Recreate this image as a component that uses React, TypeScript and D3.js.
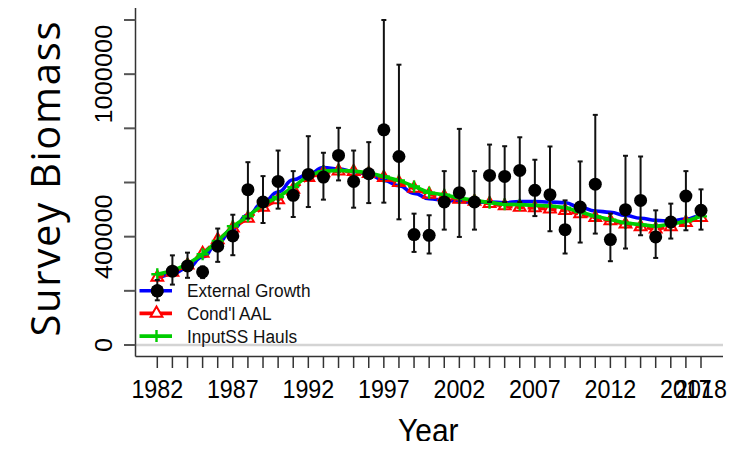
import * as d3 from "d3";

const years = [
  1982, 1983, 1984, 1985, 1986, 1987, 1988, 1989, 1990, 1991, 1992, 1993,
  1994, 1995, 1996, 1997, 1998, 1999, 2000, 2001, 2002, 2003, 2004, 2005,
  2006, 2007, 2008, 2009, 2010, 2011, 2012, 2013, 2014, 2015, 2016, 2017, 2018,
];

// survey observations with error bars
const observed = [
  200000, 272600, 292000, 270000, 364700, 402600, 573500, 528000, 604000,
  552500, 630000, 620000, 700000, 604000, 632400, 794500, 696000, 407700,
  405000, 528000, 562400, 528000, 626000, 622500, 644600, 571000, 555000,
  426000, 509400, 594000, 389300, 499800, 534000, 398900, 454100, 550000,
  497200,
];
const observedLow = [
  165000, 223000, 248000, 247000, 307000, 331500, 466700, 450500, 503500,
  472600, 509400, 536700, 607700, 507000, 524000, 525600, 464000, 343700,
  337800, 426000, 399000, 426000, 528000, 528000, 528000, 476000, 420000,
  337800, 378300, 411400, 309400, 356200, 405200, 321500, 393000, 423600,
  426000,
];
const observedHigh = [
  240000, 331000, 341000, 290000, 430000, 481000, 675000, 623600, 718000,
  642000, 771000, 709800, 801900, 718000, 749000, 1200000, 1035000, 485000,
  479000, 642000, 798000, 642000, 740000, 734000, 767000, 684000, 733000,
  534000, 677800, 849700, 485000, 698700, 696000, 497200, 522000, 642000,
  574600,
];

// model fits
const externalGrowth = [
  250000, 262000, 285000, 325000, 378000, 430000, 480000, 525000, 565000,
  610000, 630000, 655000, 650000, 640000, 630000, 608000, 588000, 560000,
  540000, 535000, 530000, 527000, 528000, 525000, 530000, 530000, 528000,
  525000, 508000, 495000, 490000, 478000, 468000, 460000, 458000, 465000,
  478000,
];
const condAAL = [
  250000, 268000, 295000, 338000, 388000, 432000, 468000, 508000, 536000,
  575000, 618000, 636000, 642000, 640000, 633000, 618000, 600000, 578000,
  556000, 548000, 538000, 530000, 522000, 514000, 508000, 506000, 502000,
  496000, 484000, 470000, 458000, 446000, 436000, 428000, 436000, 452000,
  470000,
];
const inputSSHauls = [
  261500, 273700, 298300, 335200, 384200, 438300, 475100, 519300, 546200,
  583100, 626200, 642000, 644600, 642000, 636100, 622500, 607700, 585600,
  562400, 555000, 542600, 534000, 525600, 519300, 518200, 515700, 513200,
  507200, 491000, 475100, 463000, 450500, 444600, 438300, 445700, 456800,
  475100,
];

const yearLabels = [1982, 1987, 1992, 1997, 2002, 2007, 2012, 2017, 2018];
const yTicks = [0, 200000, 400000, 600000, 800000, 1000000, 1200000];
const yLabels = [0, 400000, 1000000];
const legendItems = ["External Growth", "Cond'l AAL", "InputSS Hauls"];

const W = 754;
const H = 449;
const SX = 0.917; // picture was squeezed horizontally
const tickFont = "'Liberation Sans', Arial, sans-serif";

export default function App() {
  const x = d3.scaleLinear().domain([1982, 2018]).range([157.3, 701]);
  const y = d3.scaleLinear().domain([0, 1200000]).range([345, 20]);

  const mkLine = (vals: number[], curve: d3.CurveFactory) =>
    d3
      .line<number>()
      .x((_, i) => x(years[i]))
      .y((d) => y(d))
      .curve(curve)(vals) ?? "";

  const tri = d3.symbol(d3.symbolTriangle, 60)() ?? "";
  const axisLeft = 135.5;
  const axisBottom = 356.5;

  return (
    <svg width={W} height={H} style={{ display: "block", margin: "-8px", background: "#fff" }}>
      {/* zero reference line */}
      <line x1={axisLeft} x2={723} y1={y(0)} y2={y(0)} stroke="#d4d4d4" strokeWidth={2.5} />

      {/* axes (L-shaped box) */}
      <line x1={axisLeft} x2={axisLeft} y1={6} y2={axisBottom} stroke="#333" strokeWidth={1.5} />
      <line x1={axisLeft} x2={723} y1={axisBottom} y2={axisBottom} stroke="#333" strokeWidth={1.5} />

      {yTicks.map((t) => (
        <line key={t} x1={124} x2={axisLeft} y1={y(t)} y2={y(t)} stroke="#555" strokeWidth={2} />
      ))}
      {yLabels.map((t) => (
        <text
          key={t}
          transform={`translate(111.5,${y(t)}) scale(${SX},1) rotate(-90)`}
          textAnchor="middle"
          fontFamily={tickFont}
          fontSize={25.4}
          fill="#000"
        >
          {t}
        </text>
      ))}

      {years.map((yr) => (
        <line key={yr} x1={x(yr)} x2={x(yr)} y1={axisBottom} y2={368} stroke="#333" strokeWidth={1.5} />
      ))}
      {yearLabels.map((yr) => (
        <text
          key={yr}
          transform={`translate(${x(yr)},398) scale(${SX},1)`}
          textAnchor="middle"
          fontFamily={tickFont}
          fontSize={25.4}
          fill="#000"
        >
          {yr}
        </text>
      ))}

      {/* model lines */}
      <path d={mkLine(externalGrowth, d3.curveBumpX)} fill="none" stroke="#0000ff" strokeWidth={3.6} />
      <path d={mkLine(condAAL, d3.curveLinear)} fill="none" stroke="#ff0000" strokeWidth={3.6} strokeDasharray="7,4" />
      {condAAL.map((v, i) => (
        <path key={i} d={tri} transform={`translate(${x(years[i])},${y(v)})`} fill="none" stroke="#ff0000" strokeWidth={2} />
      ))}
      <path d={mkLine(inputSSHauls, d3.curveLinear)} fill="none" stroke="#00cc00" strokeWidth={3.6} />
      {inputSSHauls.map((v, i) => (
        <path
          key={i}
          d={`M${x(years[i]) - 6},${y(v)}H${x(years[i]) + 6}M${x(years[i])},${y(v) - 6}V${y(v) + 6}`}
          stroke="#00cc00"
          strokeWidth={2.4}
        />
      ))}

      {/* observations */}
      {observed.map((v, i) => {
        const cx = x(years[i]);
        return (
          <g key={i} stroke="#111" strokeWidth={2}>
            <line x1={cx} x2={cx} y1={y(observedLow[i])} y2={y(observedHigh[i])} />
            <line x1={cx - 2.5} x2={cx + 2.5} y1={y(observedLow[i])} y2={y(observedLow[i])} />
            <line x1={cx - 2.5} x2={cx + 2.5} y1={y(observedHigh[i])} y2={y(observedHigh[i])} />
            <circle cx={cx} cy={y(v)} r={6.5} fill="#000" stroke="none" />
          </g>
        );
      })}

      {/* legend */}
      {legendItems.map((label, i) => {
        const ly = 290.7 + i * 22.7;
        const color = ["#0000ff", "#ff0000", "#00cc00"][i];
        return (
          <g key={label}>
            <line x1={139.5} x2={172} y1={ly} y2={ly} stroke={color} strokeWidth={3.6} />
            {i === 1 && (
              <path d={tri} transform={`translate(156.5,${ly})`} fill="#fff" stroke={color} strokeWidth={2} />
            )}
            {i === 2 && (
              <path d={`M150.5,${ly}H162.5M156.5,${ly - 6}V${ly + 6}`} stroke={color} strokeWidth={2.4} />
            )}
            <text
              transform={`translate(187,${ly + 6.5}) scale(${SX},1)`}
              fontFamily={tickFont}
              fontSize={18.8}
              fill="#111"
            >
              {label}
            </text>
          </g>
        );
      })}
      {/* the 1982 observation sits over the legend key */}
      <circle cx={x(years[0])} cy={y(observed[0])} r={6.5} fill="#000" />

      {/* axis titles */}
      <text
        transform={`translate(428.3,441.7) scale(${SX},1)`}
        textAnchor="middle"
        fontFamily={tickFont}
        fontSize={32.6}
        fill="#000"
      >
        Year
      </text>
      <text
        transform="translate(60,179) rotate(-90)"
        textAnchor="middle"
        fontFamily="'Open Sans', Lato, sans-serif"
        fontSize={40}
        textLength={315}
        lengthAdjust="spacing"
        fill="#000"
      >
        Survey Biomass
      </text>
    </svg>
  );
}
